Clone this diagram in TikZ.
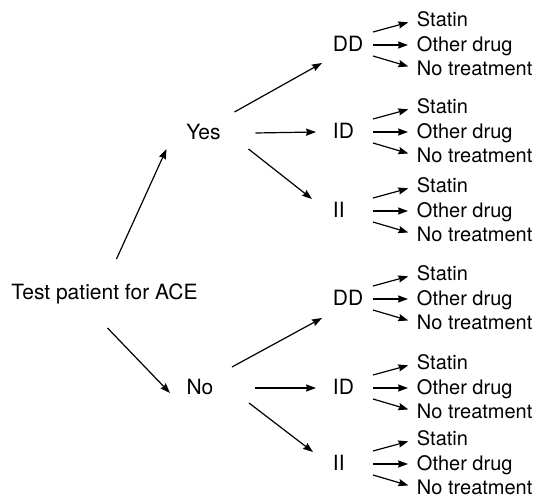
\documentclass[tikz,border=0pt]{standalone}
\usepackage{fontspec}
\setmainfont{TeX Gyre Heros}
\usetikzlibrary{positioning, arrows.meta}

\begin{document}
\begin{tikzpicture}[x=0.5pt, y=-0.5pt,
    every node/.style={inner sep=0pt, outer sep=0pt, text height=7pt, text depth=0pt, font=\fontsize{10}{12}\selectfont},
    stem/.style={font=\fontsize{10.5}{12}\selectfont},
    gene/.style={stem, anchor=west, text width=20pt, align=left},
    arr/.style={-{Stealth[length=5pt, width=3.6pt, inset=0.6pt]}, line width=0.6pt},
    twig/.style={arr, shorten >=4.5pt}]
    \useasboundingbox (0,0) rectangle (538,497);

    \node[stem] (test) at (104.5,293) {Test patient for ACE};
    \node[stem] (yes) at (203.5,133) {Yes};
    \node[stem] (no) at (200,388) {No};

    \node[gene] (dd-yes) at (333,45) {DD};
    \node[gene] (id-yes) at (333,132) {ID};
    \node[gene] (ii-yes) at (333,211) {II};
    \node[gene] (dd-no) at (333,299) {DD};
    \node[gene] (id-no) at (333,388) {ID};
    \node[gene] (ii-no) at (333,464) {II};

    \node[above right=9pt and 22pt of dd-yes.east] (dd-yes-statin) {Statin};
    \node[right=22pt of dd-yes] (dd-yes-other) {Other drug};
    \node[below right=8.5pt and 22pt of dd-yes.east] (dd-yes-none) {No treatment};

    \node[above right=9pt and 22pt of id-yes.east] (id-yes-statin) {Statin};
    \node[right=22pt of id-yes] (id-yes-other) {Other drug};
    \node[below right=8.5pt and 22pt of id-yes.east] (id-yes-none) {No treatment};

    \node[above right=9pt and 22pt of ii-yes.east] (ii-yes-statin) {Statin};
    \node[right=22pt of ii-yes] (ii-yes-other) {Other drug};
    \node[below right=8.5pt and 22pt of ii-yes.east] (ii-yes-none) {No treatment};

    \node[above right=9pt and 22pt of dd-no.east] (dd-no-statin) {Statin};
    \node[right=22pt of dd-no] (dd-no-other) {Other drug};
    \node[below right=8.5pt and 22pt of dd-no.east] (dd-no-none) {No treatment};

    \node[above right=9pt and 22pt of id-no.east] (id-no-statin) {Statin};
    \node[right=22pt of id-no] (id-no-other) {Other drug};
    \node[below right=8.5pt and 22pt of id-no.east] (id-no-none) {No treatment};

    \node[above right=9pt and 22pt of ii-no.east] (ii-no-statin) {Statin};
    \node[right=22pt of ii-no] (ii-no-other) {Other drug};
    \node[below right=8.5pt and 22pt of ii-no.east] (ii-no-none) {No treatment};

    % test result
    \draw[arr] ([shift={(12,-34)}]test.center) -- ([shift={(-37,16)}]yes.center);
    \draw[arr] ([shift={(3,35)}]test.center) -- ([shift={(-30,5)}]no.center);

    % genotype
    \draw[arr] ([shift={(31,-21)}]yes.center) -- ([shift={(-11,18)}]dd-yes.west);
    \draw[arr] ([shift={(52,0)}]yes.center) -- ([shift={(-17,0)}]id-yes.west);
    \draw[arr] ([shift={(45,16)}]yes.center) -- ([shift={(-21,-12)}]ii-yes.west);
    \draw[arr] ([shift={(32,-21)}]no.center) -- ([shift={(-11,19)}]dd-no.west);
    \draw[arr] ([shift={(55,0)}]no.center) -- ([shift={(-17,0)}]id-no.west);
    \draw[arr] ([shift={(49,15)}]no.center) -- ([shift={(-20,-12)}]ii-no.west);

    % treatment
    \draw[twig] ([shift={(0,-13)}]dd-yes.east) -- (dd-yes-statin.west);
    \draw[twig] (dd-yes.east) -- (dd-yes-other.west);
    \draw[twig] ([shift={(0,11)}]dd-yes.east) -- (dd-yes-none.west);
    \draw[twig] ([shift={(0,-13)}]id-yes.east) -- (id-yes-statin.west);
    \draw[twig] (id-yes.east) -- (id-yes-other.west);
    \draw[twig] ([shift={(0,11)}]id-yes.east) -- (id-yes-none.west);
    \draw[twig] ([shift={(0,-13)}]ii-yes.east) -- (ii-yes-statin.west);
    \draw[twig] (ii-yes.east) -- (ii-yes-other.west);
    \draw[twig] ([shift={(0,11)}]ii-yes.east) -- (ii-yes-none.west);
    \draw[twig] ([shift={(0,-13)}]dd-no.east) -- (dd-no-statin.west);
    \draw[twig] (dd-no.east) -- (dd-no-other.west);
    \draw[twig] ([shift={(0,11)}]dd-no.east) -- (dd-no-none.west);
    \draw[twig] ([shift={(0,-13)}]id-no.east) -- (id-no-statin.west);
    \draw[twig] (id-no.east) -- (id-no-other.west);
    \draw[twig] ([shift={(0,11)}]id-no.east) -- (id-no-none.west);
    \draw[twig] ([shift={(0,-13)}]ii-no.east) -- (ii-no-statin.west);
    \draw[twig] (ii-no.east) -- (ii-no-other.west);
    \draw[twig] ([shift={(0,11)}]ii-no.east) -- (ii-no-none.west);
\end{tikzpicture}
\end{document}
